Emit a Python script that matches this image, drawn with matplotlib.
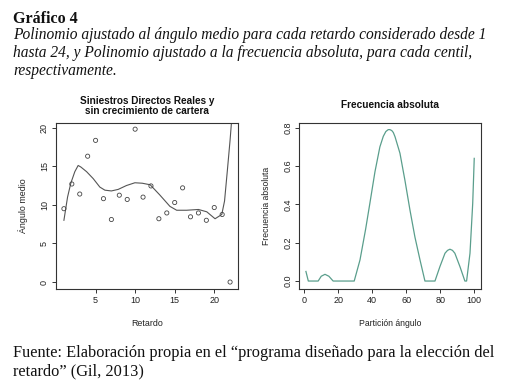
import matplotlib
matplotlib.use("Agg")
import matplotlib.pyplot as plt

# ---- data ----
retardo = list(range(1, 23))
angulo_medio = [9.5, 12.7, 11.4, 16.3, 18.35, 10.8, 8.1, 11.25, 10.7, 19.8, 11.0,
                12.45, 8.2, 8.95, 10.3, 12.2, 8.45, 8.95, 8.0, 9.65, 8.75, 0.0]

poly_x = [1.0, 1.46, 1.87, 2.38, 2.8, 3.14, 3.86, 4.7, 5.54, 6.18, 7.0, 7.86, 8.9,
          9.97, 10.9, 11.9, 13.1, 14.4, 15.25, 16.5, 18.0, 19.05, 20.1, 20.95,
          21.3, 21.66, 22.0, 22.2]
poly_y = [8.0, 11.0, 12.8, 14.3, 15.1, 14.9, 14.3, 13.4, 12.3, 11.9, 11.8, 12.0, 12.5,
          12.86, 12.8, 12.6, 11.3, 9.8, 9.3, 9.3, 9.4, 9.1, 8.2, 8.75,
          10.5, 14.5, 18.4, 21.0]

part_x = [1.0, 2.4, 5.0, 8.2, 10.0, 12.2, 14.5, 17.0, 29.4, 32.8, 36.1, 38.6, 41.6,
          44.5, 46.5, 48.0, 49.4, 50.4, 51.5, 52.4, 53.4, 56.3, 59.2, 62.2, 65.1, 68.1,
          71.0, 76.9, 79.8, 82.8, 84.3, 85.7, 87.2, 88.6, 91.6, 94.5, 95.5, 97.5, 99.1,
          100.0]
frec_y = [0.05, 0.0, 0.0, 0.0, 0.025, 0.035, 0.025, 0.0, 0.0, 0.11, 0.27, 0.405, 0.57,
          0.70, 0.755, 0.78, 0.79, 0.79, 0.785, 0.775, 0.753, 0.667, 0.527, 0.37, 0.23,
          0.11, 0.0, 0.0, 0.075, 0.145, 0.16, 0.166, 0.16, 0.145, 0.075, 0.0, 0.0, 0.145,
          0.405, 0.64]

left_xticks = [5, 10, 15, 20]
left_yticks = [0, 5, 10, 15, 20]
right_xticks = [0, 20, 40, 60, 80, 100]
right_yticks = [0.0, 0.2, 0.4, 0.6, 0.8]

W, H = 508, 387
fig = plt.figure(figsize=(W / 100, H / 100), dpi=100)
fig.patch.set_facecolor("white")

sans = "Liberation Sans"
serif = "Liberation Serif"

def px(x, y):
    return x / W, 1 - y / H

def style_ax(ax):
    for s in ax.spines.values():
        s.set_linewidth(0.8)
        s.set_color("#333333")
    ax.tick_params(direction="out", length=3, width=0.7, colors="#333333",
                   labelsize=6.5, pad=2)
    for lab in ax.get_xticklabels() + ax.get_yticklabels():
        lab.set_fontfamily(sans)
        lab.set_color("#222222")

# left panel
ax1 = fig.add_axes([56 / W, (H - 289) / H, 182 / W, 166 / H])
ax1.plot(poly_x, poly_y, color="#555555", lw=0.8, clip_on=True)
ax1.scatter(retardo, angulo_medio, s=9, facecolors="none", edgecolors="#444444",
            linewidths=0.6, zorder=3)
ax1.set_xlim(0.0, 23.0)
ax1.set_ylim(-0.9, 20.6)
ax1.set_xticks(left_xticks)
ax1.set_yticks(left_yticks)
ax1.set_yticklabels([str(v) for v in left_yticks], rotation=90, va="center")
style_ax(ax1)
ax1.set_xlabel("Retardo", fontfamily=sans, fontsize=6.4, color="#222222", labelpad=10)
ax1.set_ylabel("Ángulo medio", fontfamily=sans, fontsize=6.4, color="#222222", labelpad=9)

# right panel
ax2 = fig.add_axes([299.3 / W, (H - 288.7) / H, 181.4 / W, 165.4 / H])
ax2.plot(part_x, frec_y, color="#5a9e8c", lw=0.9)
ax2.set_xlim(-2.9, 103.8)
ax2.set_ylim(-0.04, 0.823)
ax2.set_xticks(right_xticks)
ax2.set_yticks(right_yticks)
ax2.set_yticklabels([f"{v:.1f}" for v in right_yticks], rotation=90, va="center")
style_ax(ax2)
ax2.set_xlabel("Partición ángulo", fontfamily=sans, fontsize=6.2, color="#222222", labelpad=10)
ax2.set_ylabel("Frecuencia absoluta", fontfamily=sans, fontsize=6.2, color="#222222", labelpad=9)

# panel titles
fig.text(*px(147, 101), "Siniestros Directos Reales y", ha="center", va="center",
         fontfamily=sans, fontweight="bold", fontsize=7.2, color="#111111")
fig.text(*px(147, 110.9), "sin crecimiento de cartera", ha="center", va="center",
         fontfamily=sans, fontweight="bold", fontsize=7.2, color="#111111")
fig.text(*px(390, 105.5), "Frecuencia absoluta", ha="center", va="center",
         fontfamily=sans, fontweight="bold", fontsize=7.3, color="#111111")

# header
fig.text(*px(13, 23.3), "Gráfico 4", ha="left", va="baseline", fontfamily=serif,
         fontweight="bold", fontsize=11.5, color="#111111")
lines = ["Polinomio ajustado al ángulo medio para cada retardo considerado desde 1",
         "hasta 24, y Polinomio ajustado a la frecuencia absoluta, para cada centil,",
         "respectivamente."]
for i, t in enumerate(lines):
    fig.text(*px(13, 39.3 + 17.9 * i), t, ha="left", va="baseline", fontfamily=serif,
             fontstyle="italic", fontsize=11.2, color="#111111")

# footer
fig.text(*px(13, 357.3), "Fuente: Elaboración propia en el “programa diseñado para la elección del",
         ha="left", va="baseline", fontfamily=serif, fontsize=11.8, color="#111111")
fig.text(*px(13, 375), "retardo” (Gil, 2013)",
         ha="left", va="baseline", fontfamily=serif, fontsize=11.8, color="#111111")

fig.savefig("out.png", dpi=100, facecolor="white")
